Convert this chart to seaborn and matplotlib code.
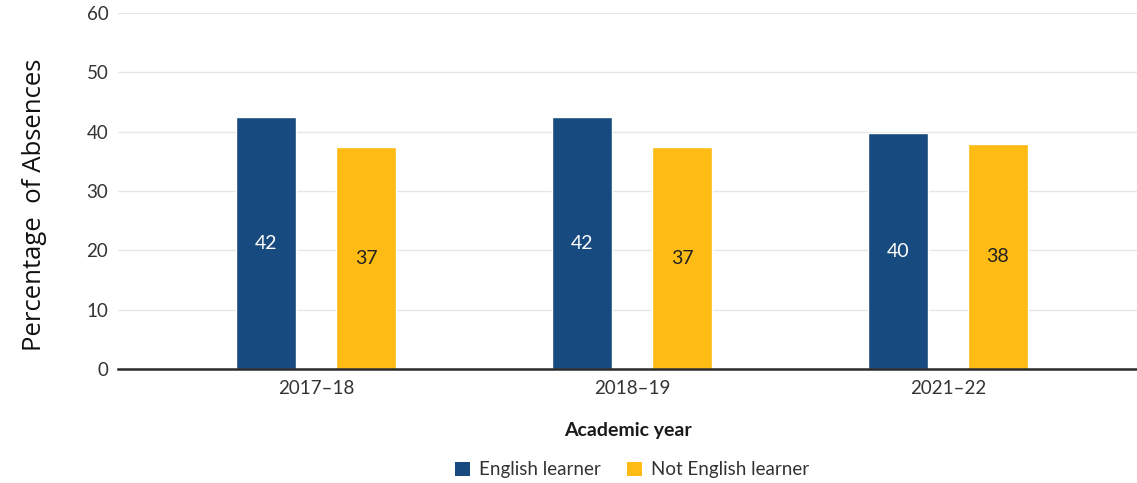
import matplotlib
matplotlib.use("Agg")
import matplotlib.pyplot as plt
from matplotlib.patches import Patch
import pandas as pd
import seaborn as sns

years = ["2017–18", "2018–19", "2021–22"]
groups = ["English learner", "Not English learner"]
english_learner = [42.4, 42.4, 39.7]
not_english_learner = [37.4, 37.4, 38.0]
y_ticks = [0, 10, 20, 30, 40, 50, 60]

palette = {"English learner": "#174a7e", "Not English learner": "#fdbb13"}
label_colors = {"English learner": "white", "Not English learner": "#222222"}

df = pd.DataFrame({
    "year": years * 2,
    "group": [groups[0]] * len(years) + [groups[1]] * len(years),
    "value": english_learner + not_english_learner,
})

sns.set_theme(style="white")
plt.rcParams["font.family"] = ["Lato", "DejaVu Sans"]

fig = plt.figure(figsize=(11.37, 4.83), dpi=100)
ax = fig.add_axes([118 / 1137, 114 / 483, 1 - 118 / 1137, 356 / 483])

sns.barplot(data=df, x="year", y="value", hue="group", order=years,
            hue_order=groups, palette=palette, width=0.632, gap=0.4,
            saturation=1, legend=False, ax=ax, zorder=3)

for container, g in zip(ax.containers, groups):
    ax.bar_label(container, fmt="%.0f", label_type="center",
                 color=label_colors[g], fontsize=14)

ax.set_ylim(0, 60)
ax.set_xlim(-0.627, 2.598)
ax.set_yticks(y_ticks)
ax.yaxis.grid(True, color="#e6e6e6", linewidth=1, zorder=0)
ax.xaxis.grid(False)
for side in ["left", "right", "top"]:
    ax.spines[side].set_visible(False)
ax.spines["bottom"].set_color("#2b2b2b")
ax.spines["bottom"].set_linewidth(1.8)
ax.spines["bottom"].set_zorder(4)
ax.tick_params(axis="both", length=0, labelsize=13.5, labelcolor="#333333")
ax.tick_params(axis="y", pad=7)
ax.tick_params(axis="x", pad=8)

ax.set_xlabel("Academic year", fontsize=14, fontweight="bold",
              color="#1a1a1a", labelpad=18)
ax.set_ylabel("")
fig.text(35 / 1137, 1 - 205 / 483, "Percentage  of Absences", rotation=90,
         ha="center", va="center", fontsize=18.5, color="#111111",
         family=["Open Sans", "DejaVu Sans"])

handles = [Patch(facecolor=palette[g], edgecolor="none", label=g) for g in groups]
fig.legend(handles=handles, loc="center", bbox_to_anchor=(632 / 1137, 1 - 470 / 483),
           ncol=2, frameon=False, fontsize=13.5, handlelength=0.8,
           handleheight=0.8, handletextpad=0.5, columnspacing=1.4,
           labelcolor="#333333")

fig.savefig("out.png", dpi=100)
